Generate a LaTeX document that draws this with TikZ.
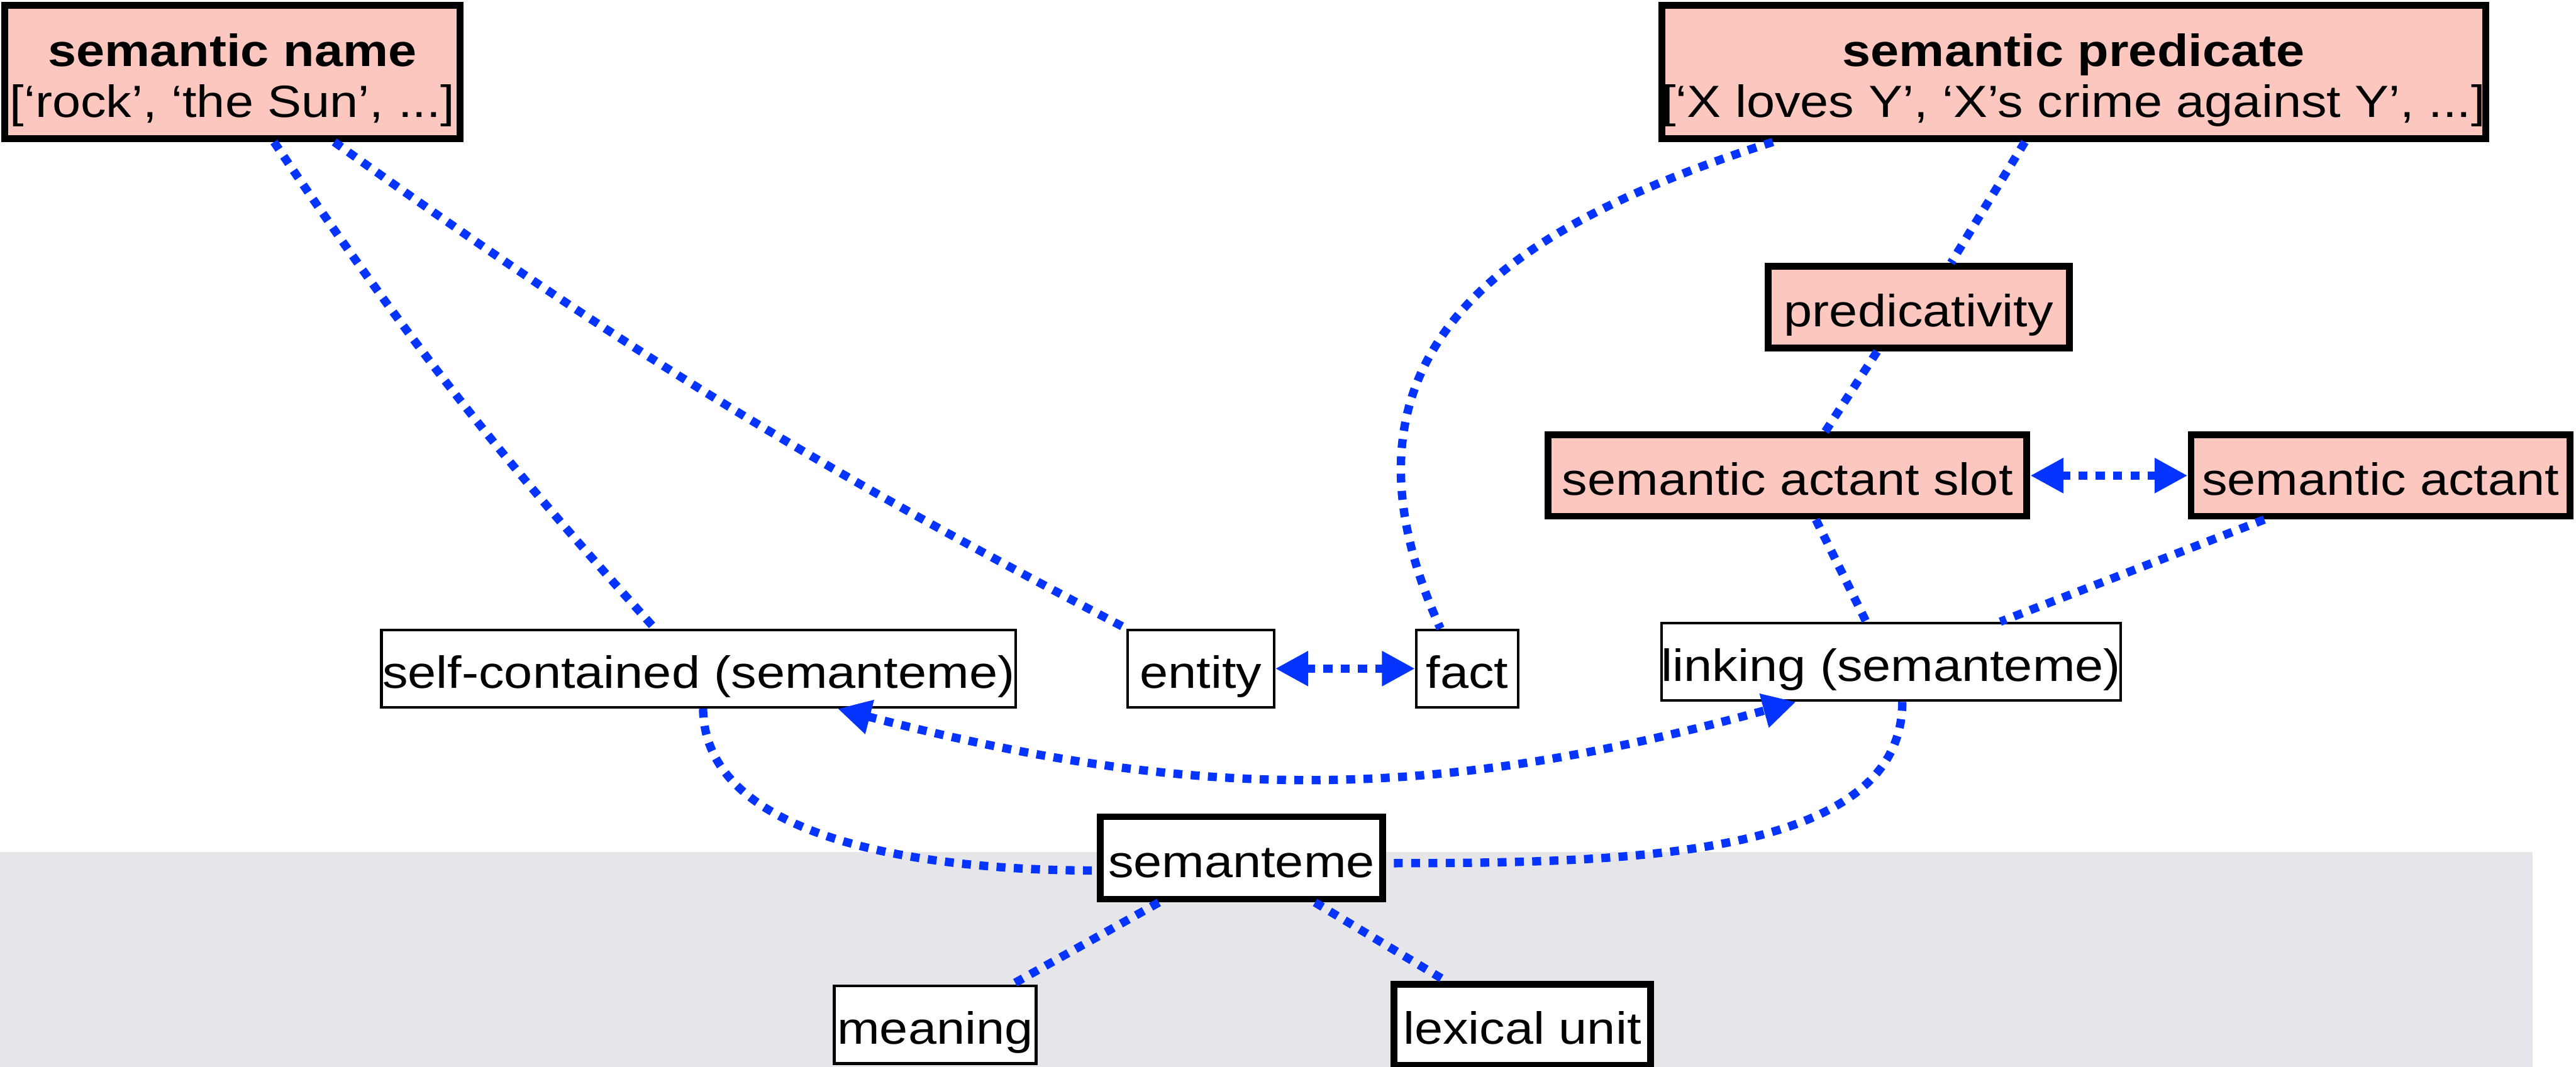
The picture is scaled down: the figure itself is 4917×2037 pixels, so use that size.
\documentclass[tikz,border=0pt]{standalone}
\usepackage{fontspec}
\setmainfont[FakeStretch=1.13]{Liberation Sans}
\usetikzlibrary{arrows.meta,calc}
\definecolor{notepink}{RGB}{252,199,190}
\definecolor{bandgray}{RGB}{230,229,234}
\definecolor{linkblue}{RGB}{5,51,255}

\begin{document}
\begin{tikzpicture}[x=0.01cm, y=-0.01cm,
  every node/.style={inner sep=0pt, font=\fontsize{24.5}{27.6}\selectfont},
  heavy/.style={draw=black, line width=0.13cm},
  pinkbox/.style={heavy, fill=notepink},
  plainbox/.style={heavy, fill=white},
  lightbox/.style={draw=black, line width=0.05cm, fill=white},
  oneline/.style={text height=0.9cm, text depth=0.16cm},
  link/.style={draw=linkblue, line width=0.16cm, dash pattern=on 0.17cm off 0.16cm},
  tip/.tip={Triangle[length=0.63cm,width=0.63cm]},
  both/.style={link, tip-tip},
]
\useasboundingbox (0,0) rectangle (4917,2037);

% shaded lower band
\fill[bandgray] (0,1627) rectangle (4834,2037);

% upper level: names and predicates
\node[pinkbox, minimum width=8.68cm, minimum height=2.54cm, align=center] (sname) at (443.5,137.5)
  {\rule{0pt}{0.94cm}\bfseries semantic name\\{[}‘rock’, ‘the Sun’, ...{]}};
\node[pinkbox, minimum width=15.43cm, minimum height=2.54cm, align=center] (spred) at (3958,137.5)
  {\rule{0pt}{0.94cm}\bfseries semantic predicate\\{[}‘X loves Y’, ‘X’s crime against Y’, ...{]}};
\node[pinkbox, oneline, minimum width=5.74cm, minimum height=1.56cm] (predic) at (3662.5,586.5) {predicativity};
\node[pinkbox, oneline, minimum width=9.13cm, minimum height=1.55cm] (slot) at (3412,908) {semantic actant slot};
\node[pinkbox, oneline, minimum width=7.23cm, minimum height=1.55cm] (actant) at (4544,908) {semantic actant};

% middle level: kinds of semantemes
\node[lightbox, oneline, minimum width=12.10cm, minimum height=1.48cm] (selfc) at (1333.5,1276.5) {self-contained (semanteme)};
\node[lightbox, oneline, minimum width=2.79cm, minimum height=1.48cm] (entity) at (2292,1276.5) {entity};
\node[lightbox, oneline, minimum width=1.94cm, minimum height=1.48cm] (fact) at (2800.5,1276.5) {fact};
\node[lightbox, oneline, minimum width=8.76cm, minimum height=1.48cm] (linking) at (3609.5,1263.5) {linking (semanteme)};

% lower level
\node[plainbox, oneline, minimum width=5.38cm, minimum height=1.57cm] (sem) at (2369.5,1638) {semanteme};
\node[lightbox, oneline, minimum width=3.85cm, minimum height=1.48cm] (meaning) at (1785,1956.5) {meaning};
\node[plainbox, oneline, minimum width=4.90cm, minimum height=1.55cm] (lex) at (2905.5,1956.5) {lexical unit};

% connectors
\draw[link] ($(sname.south)+(79.5,0)$) to[bend right=4] ($(selfc.north)+(-83.5,0)$);
\draw[link] ($(sname.south)+(194.5,0)$) to[bend right=4] (entity.north west);
\draw[link] ($(spred.south)+(-574,0)$) .. controls +(-477,153) and +(-249,-546) .. ($(fact.north)+(-51,0)$);
\draw[link] ($(spred.south)+(-93,0)$) -- ($(predic.north)+(61.5,0)$);
\draw[link] ($(predic.south)+(-79.5,0)$) -- ($(slot.north)+(72,0)$);
\draw[link] ($(slot.south)+(54,0)$) -- ($(linking.north)+(-47.5,0)$);
\draw[link] ($(actant.south)+(-222,0)$) -- ($(linking.north)+(208.5,0)$);
\draw[both] (slot.east) -- (actant.west);
\draw[both] (entity.east) -- (fact.west);
\draw[both] ($(selfc.south)+(265.5,0)$) to[bend right=15] ($(linking.south)+(-181.5,0)$);
\draw[link] ($(selfc.south)+(8.5,0)$) .. controls +(3,247) and +(-344,0) .. ($(sem.west)+(0,24)$);
\draw[link] ($(linking.south)+(21.5,0)$) .. controls +(0,300) and +(455,0) .. ($(sem.east)+(0,10)$);
\draw[link] ($(sem.south)+(-157.5,0)$) -- ($(meaning.north)+(146,0)$);
\draw[link] ($(sem.south)+(140.5,0)$) -- ($(lex.north)+(-146.5,0)$);
\end{tikzpicture}
\end{document}
